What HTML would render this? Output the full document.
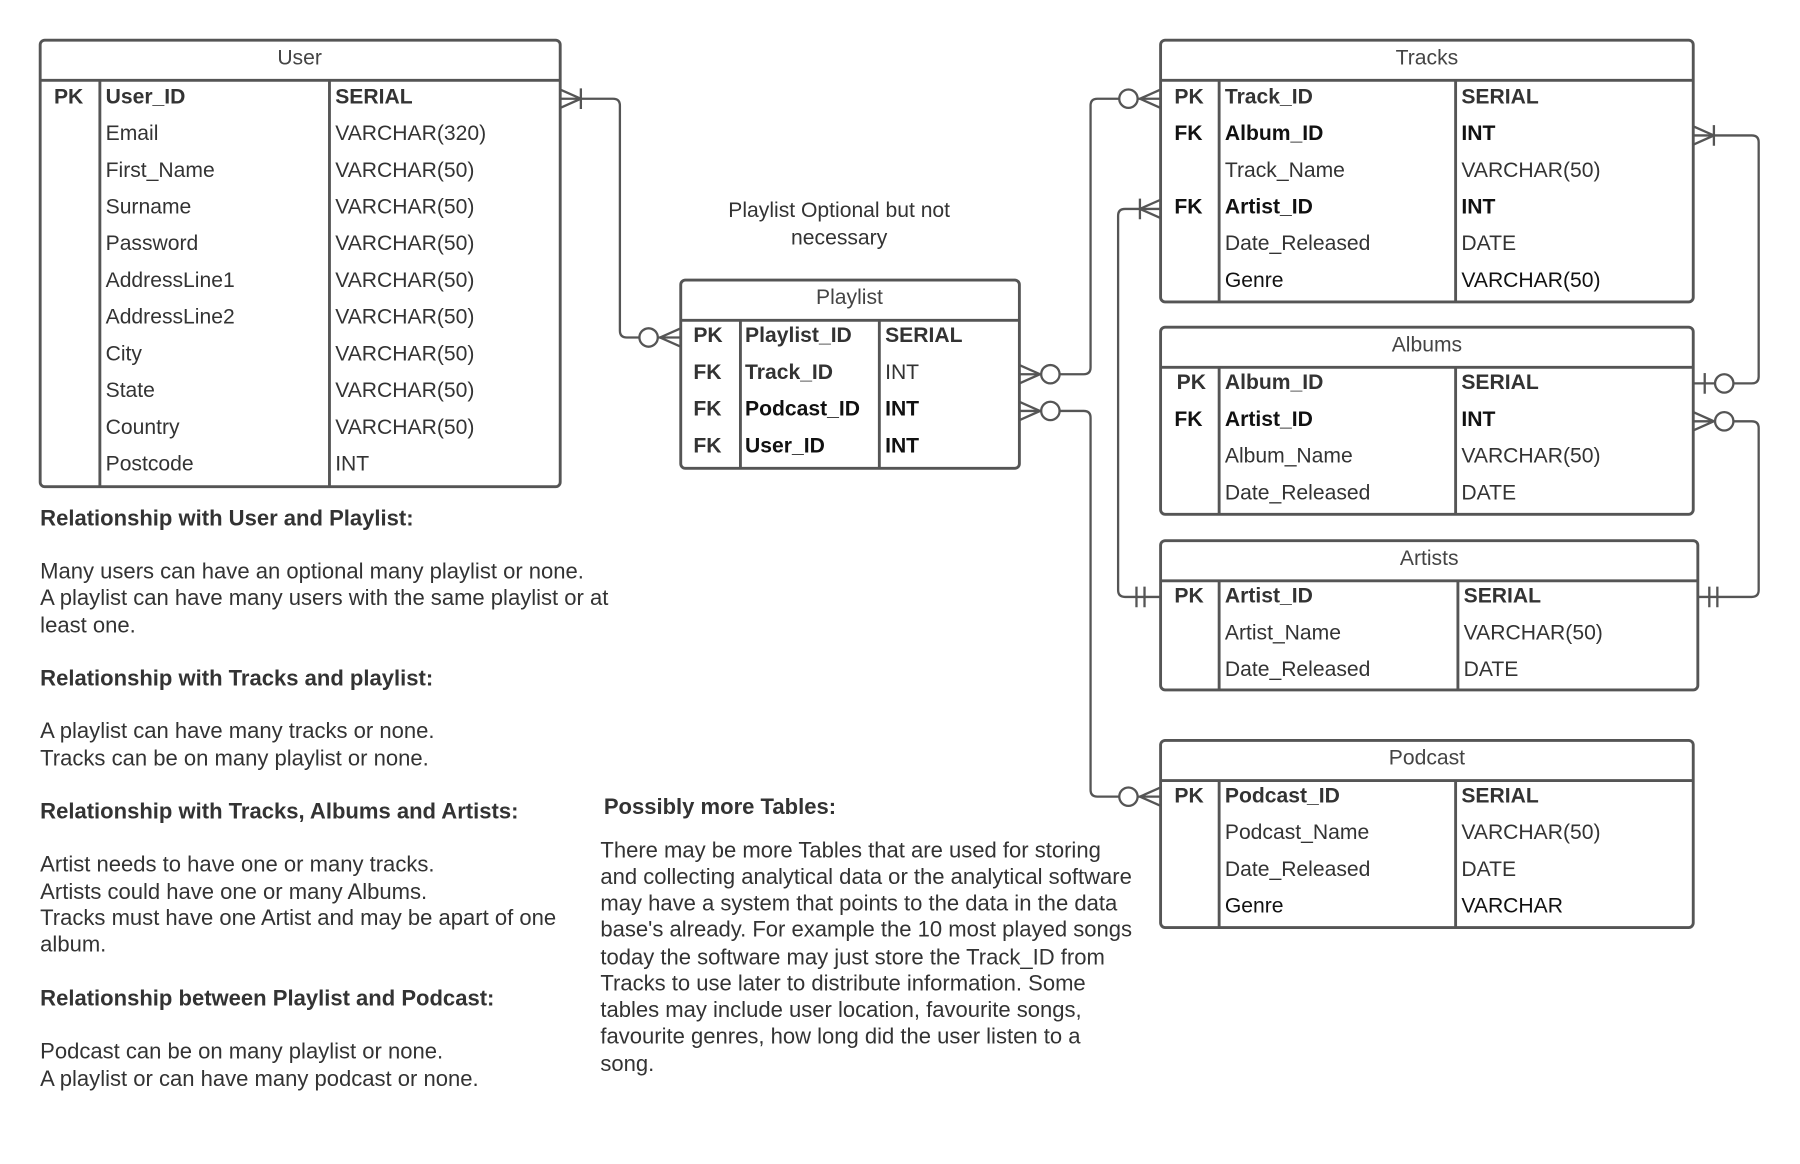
<!DOCTYPE html>
<html><head><meta charset="utf-8"><style>
html,body{margin:0;padding:0;background:#fff}
svg{display:block}
text{font-family:"Liberation Sans",sans-serif;font-size:18.4px;fill:#333}
.n{font-size:19.2px}
.b{font-weight:bold}
.k{fill:#111}
.h{fill:#444}
</style></head><body>
<svg width="1800" height="1164" viewBox="0 0 1568 1014" preserveAspectRatio="none" xmlns="http://www.w3.org/2000/svg">
<g fill="none" stroke="#555" stroke-width="2.5">
<rect x="35" y="35" width="453" height="389" rx="4"/>
<line x1="35" y1="70" x2="488" y2="70"/><line x1="87" y1="70" x2="87" y2="424"/><line x1="287" y1="70" x2="287" y2="424"/>
<rect x="593" y="244" width="295" height="164" rx="4"/>
<line x1="593" y1="279" x2="888" y2="279"/><line x1="645" y1="279" x2="645" y2="408"/><line x1="766" y1="279" x2="766" y2="408"/>
<rect x="1011" y="35" width="464" height="228" rx="4"/>
<line x1="1011" y1="70" x2="1475" y2="70"/><line x1="1062" y1="70" x2="1062" y2="263"/><line x1="1268" y1="70" x2="1268" y2="263"/>
<rect x="1011" y="285" width="464" height="163" rx="4"/>
<line x1="1011" y1="320" x2="1475" y2="320"/><line x1="1062" y1="320" x2="1062" y2="448"/><line x1="1268" y1="320" x2="1268" y2="448"/>
<rect x="1011" y="471" width="468" height="130" rx="4"/>
<line x1="1011" y1="506" x2="1479" y2="506"/><line x1="1062" y1="506" x2="1062" y2="601"/><line x1="1270" y1="506" x2="1270" y2="601"/>
<rect x="1011" y="645" width="464" height="163" rx="4"/>
<line x1="1011" y1="680" x2="1475" y2="680"/><line x1="1062" y1="680" x2="1062" y2="808"/><line x1="1268" y1="680" x2="1268" y2="808"/>
</g>
<g fill="none" stroke="#555" stroke-width="2">
<path d="M488 86 H534 Q540 86 540 92 V288 Q540 294 546 294 H593"/>
<path d="M488 78 L506 86 L488 94 M506 77 V95"/>
<circle cx="565" cy="294" r="8" fill="#fff"/>
<path d="M593 286 L575 294 L593 302"/>
<path d="M888 326 H944 Q950 326 950 320 V92 Q950 86 956 86 H1011"/>
<path d="M888 318 L906 326 L888 334"/><circle cx="915" cy="326" r="8" fill="#fff"/>
<circle cx="983" cy="86" r="8" fill="#fff"/><path d="M1011 78 L993 86 L1011 94"/>
<path d="M888 358 H944 Q950 358 950 364 V688 Q950 694 956 694 H1011"/>
<path d="M888 350 L906 358 L888 366"/><circle cx="915" cy="358" r="8" fill="#fff"/>
<circle cx="983" cy="694" r="8" fill="#fff"/><path d="M1011 686 L993 694 L1011 702"/>
<path d="M1011 182 H980 Q974 182 974 188 V514 Q974 520 980 520 H1011"/>
<path d="M1011 174 L993 182 L1011 190 M993 173 V191"/>
<path d="M990 511 V529 M997 511 V529"/>
<path d="M1475 118 H1526 Q1532 118 1532 124 V328 Q1532 334 1526 334 H1475"/>
<path d="M1475 110 L1493 118 L1475 126 M1493 109 V127"/>
<path d="M1485 325 V343"/><circle cx="1502" cy="334" r="8" fill="#fff"/>
<path d="M1475 367 H1526 Q1532 367 1532 373 V514 Q1532 520 1526 520 H1479"/>
<path d="M1475 359 L1493 367 L1475 375"/><circle cx="1502" cy="367" r="8" fill="#fff"/>
<path d="M1489 511 V529 M1496 511 V529"/>
</g>
<text x="261" y="56" text-anchor="middle" class="h">User</text>
<text x="47" y="90" class="b">PK</text>
<text x="92" y="90" class="b">User_ID</text><text x="292" y="90" class="b">SERIAL</text>
<text x="92" y="122">Email</text><text x="292" y="122">VARCHAR(320)</text>
<text x="92" y="154">First_Name</text><text x="292" y="154">VARCHAR(50)</text>
<text x="92" y="186">Surname</text><text x="292" y="186">VARCHAR(50)</text>
<text x="92" y="218">Password</text><text x="292" y="218">VARCHAR(50)</text>
<text x="92" y="250">AddressLine1</text><text x="292" y="250">VARCHAR(50)</text>
<text x="92" y="282">AddressLine2</text><text x="292" y="282">VARCHAR(50)</text>
<text x="92" y="314">City</text><text x="292" y="314">VARCHAR(50)</text>
<text x="92" y="346">State</text><text x="292" y="346">VARCHAR(50)</text>
<text x="92" y="378">Country</text><text x="292" y="378">VARCHAR(50)</text>
<text x="92" y="410">Postcode</text><text x="292" y="410">INT</text>
<text x="731" y="189" text-anchor="middle">Playlist Optional but not</text>
<text x="731" y="213" text-anchor="middle">necessary</text>
<text x="740" y="265" text-anchor="middle" class="h">Playlist</text>
<text x="604" y="298" class="b">PK</text><text x="649" y="298" class="b">Playlist_ID</text><text x="771" y="298" class="b">SERIAL</text>
<text x="604" y="330" class="b">FK</text><text x="649" y="330" class="b">Track_ID</text><text x="771" y="330">INT</text>
<text x="604" y="362" class="b">FK</text><text x="649" y="362" class="b k">Podcast_ID</text><text x="771" y="362" class="b k">INT</text>
<text x="604" y="394" class="b">FK</text><text x="649" y="394" class="b k">User_ID</text><text x="771" y="394" class="b k">INT</text>
<text x="1243" y="56" text-anchor="middle" class="h">Tracks</text>
<text x="1023" y="90" class="b">PK</text><text x="1067" y="90" class="b">Track_ID</text><text x="1273" y="90" class="b">SERIAL</text>
<text x="1023" y="122" class="b k">FK</text><text x="1067" y="122" class="b k">Album_ID</text><text x="1273" y="122" class="b k">INT</text>
<text x="1067" y="154">Track_Name</text><text x="1273" y="154">VARCHAR(50)</text>
<text x="1023" y="186" class="b k">FK</text><text x="1067" y="186" class="b k">Artist_ID</text><text x="1273" y="186" class="b k">INT</text>
<text x="1067" y="218">Date_Released</text><text x="1273" y="218">DATE</text>
<text x="1067" y="250" class="k">Genre</text><text x="1273" y="250" class="k">VARCHAR(50)</text>
<text x="1243" y="306" text-anchor="middle" class="h">Albums</text>
<text x="1025" y="339" class="b">PK</text><text x="1067" y="339" class="b">Album_ID</text><text x="1273" y="339" class="b">SERIAL</text>
<text x="1023" y="371" class="b k">FK</text><text x="1067" y="371" class="b k">Artist_ID</text><text x="1273" y="371" class="b k">INT</text>
<text x="1067" y="403">Album_Name</text><text x="1273" y="403">VARCHAR(50)</text>
<text x="1067" y="435">Date_Released</text><text x="1273" y="435">DATE</text>
<text x="1245" y="492" text-anchor="middle" class="h">Artists</text>
<text x="1023" y="525" class="b">PK</text><text x="1067" y="525" class="b">Artist_ID</text><text x="1275" y="525" class="b">SERIAL</text>
<text x="1067" y="557">Artist_Name</text><text x="1275" y="557">VARCHAR(50)</text>
<text x="1067" y="589">Date_Released</text><text x="1275" y="589">DATE</text>
<text x="1243" y="666" text-anchor="middle" class="h">Podcast</text>
<text x="1023" y="699" class="b">PK</text><text x="1067" y="699" class="b">Podcast_ID</text><text x="1273" y="699" class="b">SERIAL</text>
<text x="1067" y="731">Podcast_Name</text><text x="1273" y="731">VARCHAR(50)</text>
<text x="1067" y="763">Date_Released</text><text x="1273" y="763">DATE</text>
<text x="1067" y="795" class="k">Genre</text><text x="1273" y="795" class="k">VARCHAR</text>
<g class="n">
<text x="35" y="458" class="b n">Relationship with User and Playlist:</text>
<text x="35" y="504" class="n">Many users can have an optional many playlist or none.</text>
<text x="35" y="527" class="n">A playlist can have many users with the same playlist or at</text>
<text x="35" y="551" class="n">least one.</text>
<text x="35" y="597" class="b n">Relationship with Tracks and playlist:</text>
<text x="35" y="643" class="n">A playlist can have many tracks or none.</text>
<text x="35" y="667" class="n">Tracks can be on many playlist or none.</text>
<text x="35" y="713" class="b n">Relationship with Tracks, Albums and Artists:</text>
<text x="35" y="759" class="n">Artist needs to have one or many tracks.</text>
<text x="35" y="783" class="n">Artists could have one or many Albums.</text>
<text x="35" y="806" class="n">Tracks must have one Artist and may be apart of one</text>
<text x="35" y="829" class="n">album.</text>
<text x="35" y="876" class="b n">Relationship between Playlist and Podcast:</text>
<text x="35" y="922" class="n">Podcast can be on many playlist or none.</text>
<text x="35" y="946" class="n">A playlist or can have many podcast or none.</text>
<text x="526" y="709" class="b n">Possibly more Tables:</text>
<text x="523" y="747" class="n">There may be more Tables that are used for storing</text>
<text x="523" y="770" class="n">and collecting analytical data or the analytical software</text>
<text x="523" y="793" class="n">may have a system that points to the data in the data</text>
<text x="523" y="816" class="n">base's already. For example the 10 most played songs</text>
<text x="523" y="840" class="n">today the software may just store the Track_ID from</text>
<text x="523" y="863" class="n">Tracks to use later to distribute information. Some</text>
<text x="523" y="886" class="n">tables may include user location, favourite songs,</text>
<text x="523" y="909" class="n">favourite genres, how long did the user listen to a</text>
<text x="523" y="933" class="n">song.</text>
</g>
</svg>
</body></html>
